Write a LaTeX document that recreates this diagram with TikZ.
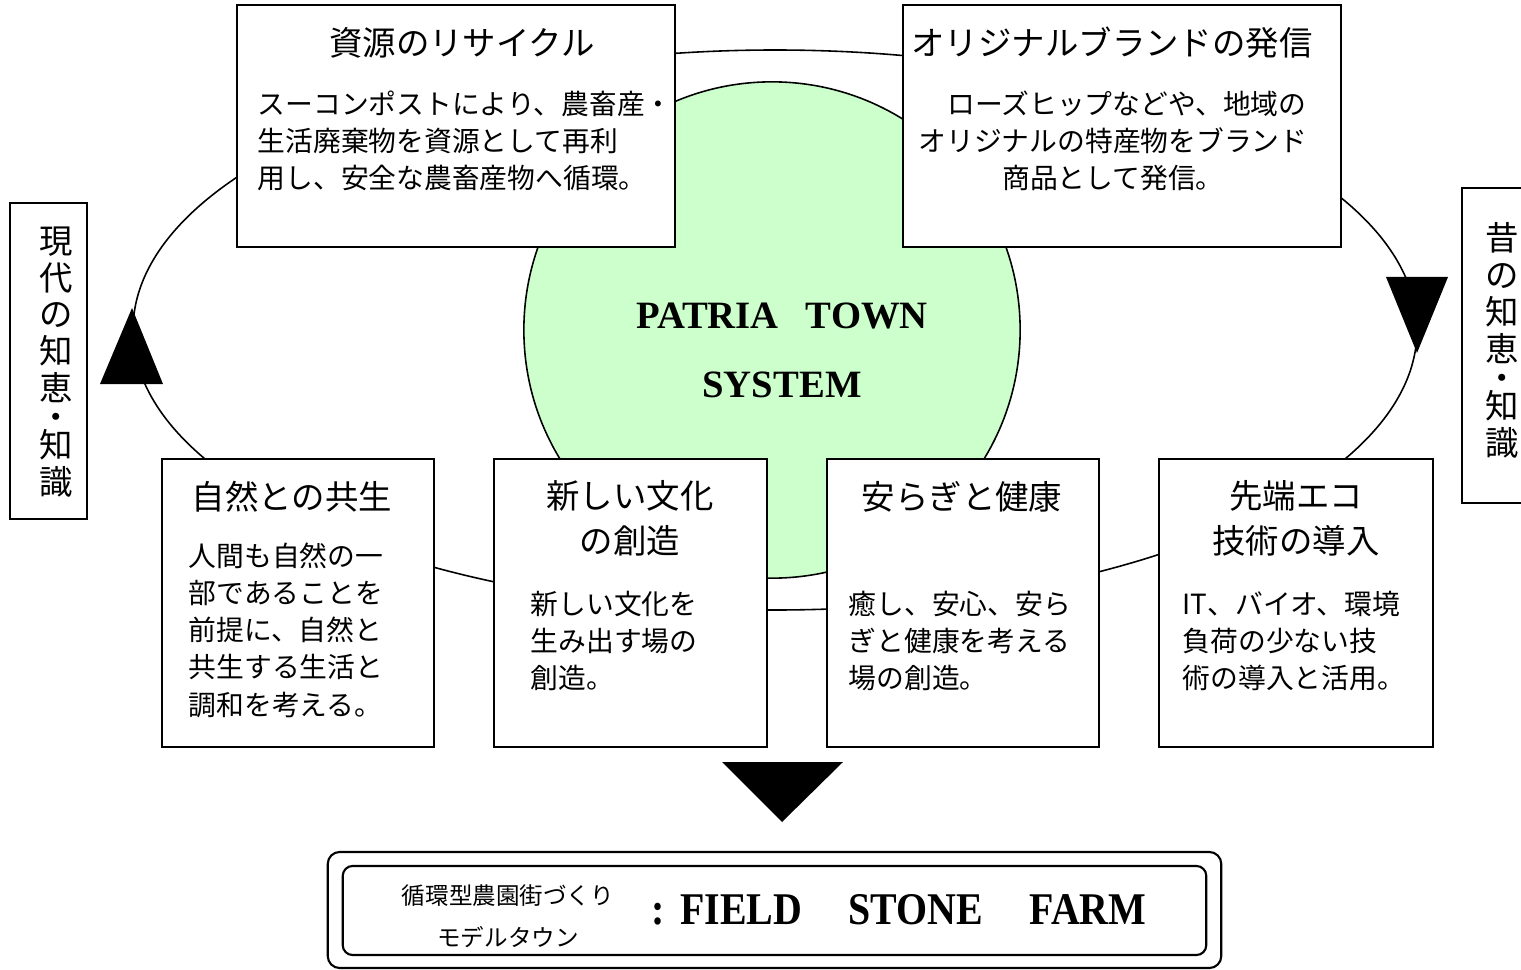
\documentclass[tikz,border=0pt]{standalone}
\usepackage{fontspec}
\setmainfont{Liberation Serif}
\newfontfamily\jp{Noto Sans CJK JP}
\definecolor{mint}{HTML}{CCFFCC}
\tikzstyle{panel} = [draw=black, fill=white, line width=0.6pt, inner sep=0pt]
\tikzstyle{head} = [font={\jp\fontsize{9.5}{12.8}\selectfont}, align=center, inner sep=0pt]
\tikzstyle{body} = [font={\jp\fontsize{7.9}{10.6}\selectfont}, align=left, anchor=west, inner sep=0pt]
\tikzstyle{side} = [font={\jp\fontsize{9.5}{10.5}\selectfont}, align=center, inner sep=0pt]
\tikzstyle{pointer} = [fill=black]

\begin{document}
\begin{tikzpicture}[x=0.01cm, y=-0.01cm]
    \useasboundingbox (0,0) rectangle (1521,970);
    \draw[line width=0.45pt] (775,330) ellipse [x radius=642, y radius=280];
    \node[circle, draw, line width=0.45pt, fill=mint, minimum size=4.96cm](system) at (772,330){};
    \node[font={\fontsize{11}{19.6}\selectfont\bfseries}, align=center, inner sep=0pt](systemname) at (782,350){PATRIA\hspace{0.7em}TOWN\\SYSTEM};
    \node[panel, minimum width=4.38cm, minimum height=2.42cm](recycle) at (456,126){};
    \node[panel, minimum width=4.38cm, minimum height=2.42cm](brand) at (1122,126){};
    \node[panel, minimum width=2.72cm, minimum height=2.88cm](nature) at (298,603){};
    \node[panel, minimum width=2.73cm, minimum height=2.88cm](culture) at (630.5,603){};
    \node[panel, minimum width=2.72cm, minimum height=2.88cm](health) at (963,603){};
    \node[panel, minimum width=2.73cm, minimum height=2.88cm](eco) at (1296,603){};
    \node[head](recyclehead) at (462,43){資源のリサイクル};
    \node[body](recyclebody) at (257,141){スーコンポストにより、農畜産・\\生活廃棄物を資源として再利\\用し、安全な農畜産物へ循環。};
    \node[head](brandhead) at (1112,43){オリジナルブランドの発信};
    \node[body, align=center, anchor=center](brandbody) at (1113,141){　ローズヒップなどや、地域の\\オリジナルの特産物をブランド\\商品として発信。};
    \node[head](naturehead) at (292,497){自然との共生};
    \node[body](naturebody) at (188,630){人間も自然の一\\部であることを\\前提に、自然と\\共生する生活と\\調和を考える。};
    \node[head](culturehead) at (630,518){新しい文化\\の創造};
    \node[body](culturebody) at (530,641){新しい文化を\\生み出す場の\\創造。};
    \node[head](healthhead) at (962,497){安らぎと健康};
    \node[body](healthbody) at (848,641){癒し、安心、安ら\\ぎと健康を考える\\場の創造。};
    \node[head](ecohead) at (1296,518){先端エコ\\技術の導入};
    \node[body](ecobody) at (1182,641){IT、バイオ、環境\\負荷の少ない技\\術の導入と活用。};
    \node[panel, minimum width=0.77cm, minimum height=3.16cm](now) at (48.5,361){};
    \node[side](nowtext) at (56,362){現\\代\\の\\知\\恵\\[-2.4pt]・\\[-2.4pt]知\\識};
    \node[panel, minimum width=0.80cm, minimum height=3.15cm](past) at (1502,345.5){};
    \node[side](pasttext) at (1502,340.5){昔\\の\\知\\恵\\[-2.4pt]・\\[-2.4pt]知\\識};
    \fill[pointer] (100,384) -- (163,384) -- (132,308) -- cycle;
    \fill[pointer] (1386,277) -- (1448,277) -- (1417,353) -- cycle;
    \fill[pointer] (722,762) -- (843,762) -- (782,822) -- cycle;
    \node[panel, rounded corners=3.4pt, minimum width=8.93cm, minimum height=1.16cm](farm) at (774.5,910){};
    \node[panel, rounded corners=2.8pt, minimum width=8.63cm, minimum height=0.89cm](farminner) at (774.5,910.5){};
    \node[font={\jp\fontsize{6.7}{12}\selectfont}, align=center, inner sep=0pt](model) at (508,916){循環型農園街づくり\\モデルタウン};
    \node[font={\fontsize{12.9}{14}\selectfont\bfseries}, inner sep=0pt](farmname) at (899,910){\scalebox{0.88}[1]{:\hspace{5pt}FIELD\hspace{15pt}STONE\hspace{15pt}FARM}};
\end{tikzpicture}
\end{document}
